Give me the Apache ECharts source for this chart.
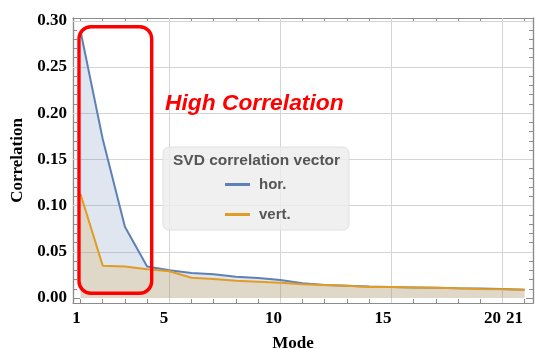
<!DOCTYPE html>
<html>
<head>
<meta charset="utf-8">
<script src="https://cdn.jsdelivr.net/npm/echarts@6/dist/echarts.min.js"></script>
<style>
  html, body { margin: 0; padding: 0; background: #ffffff; }
  #chart { width: 535px; height: 349px; }
</style>
</head>
<body>
<div id="chart"></div>
<script>
// SVD correlation per mode, horizontal and vertical planes
const modes = [1, 2, 3, 4, 5, 6, 7, 8, 9, 10, 11, 12, 13, 14, 15, 16, 17, 18, 19, 20, 21];
const hor = [0.289, 0.172, 0.077, 0.034, 0.030, 0.027, 0.0256, 0.023, 0.0216, 0.0195, 0.016, 0.014, 0.0133, 0.0125, 0.012, 0.0115, 0.011, 0.0105, 0.0102, 0.0097, 0.009];
const vert = [0.1125, 0.035, 0.034, 0.031, 0.029, 0.022, 0.0205, 0.0187, 0.0177, 0.0166, 0.015, 0.014, 0.0133, 0.012, 0.012, 0.0115, 0.011, 0.0105, 0.0098, 0.0094, 0.009];
const seriesNames = ['hor.', 'vert.'];
const legendTitle = 'SVD correlation vector';
const xTickLabels = [1, 5, 10, 15, 20, 21];
const yTickLabels = [0, 0.05, 0.10, 0.15, 0.20, 0.25, 0.30];
const yMinorTicks = [0, 0.01, 0.02, 0.03, 0.04, 0.05, 0.06, 0.07, 0.08, 0.09, 0.10,
  0.11, 0.12, 0.13, 0.14, 0.15, 0.16, 0.17, 0.18, 0.19, 0.20,
  0.21, 0.22, 0.23, 0.24, 0.25, 0.26, 0.27, 0.28, 0.29, 0.30];
const xGridValues = [5, 10, 15, 20];
const yGridValues = [0.05, 0.10, 0.15, 0.20, 0.25, 0.30];
const callout = 'High Correlation';

const BLUE = '#5E81B5';
const ORANGE = '#E19C24';
const FRAME = '#8c8c8c';

const xMin = 0.662, xMax = 21.38;
const yMin = -0.0054, yMax = 0.303;

const serifBold = { fontFamily: 'Liberation Serif', fontWeight: 'bold', fontSize: 17, color: '#000' };

function frameX(position, ticks, len) {
  return {
    type: 'value', position: position, min: xMin, max: xMax,
    axisLine: { show: true, onZero: false, lineStyle: { color: FRAME, width: 1.2 } },
    axisTick: { show: true, inside: true, length: len, customValues: ticks, lineStyle: { color: FRAME, width: 1 } },
    axisLabel: { show: false },
    splitLine: { show: false }
  };
}
function frameY(position, ticks, len) {
  return {
    type: 'value', position: position, min: yMin, max: yMax,
    axisLine: { show: true, onZero: false, lineStyle: { color: FRAME, width: 1.2 } },
    axisTick: { show: true, inside: true, length: len, customValues: ticks, lineStyle: { color: FRAME, width: 1 } },
    axisLabel: { show: false },
    splitLine: { show: false }
  };
}

const chart = echarts.init(document.getElementById('chart'), null, { renderer: 'canvas' });

const yLeft = frameY('left', yTickLabels, 7);
yLeft.axisLabel = {
  show: true, margin: 6, customValues: yTickLabels,
  formatter: v => v.toFixed(2),
  fontFamily: serifBold.fontFamily, fontWeight: 'bold', fontSize: 17, color: '#000'
};
yLeft.name = 'Correlation';
yLeft.nameLocation = 'middle';
yLeft.nameGap = 46;
yLeft.nameTextStyle = serifBold;

const option = {
  animation: false,
  backgroundColor: '#ffffff',
  grid: { left: 73, top: 18, width: 460, height: 285, containLabel: false, outerBoundsMode: 'none' },
  xAxis: [
    frameX('bottom', modes, 4),
    frameX('top', modes, 4),
    {
      // tick labels along the bottom edge
      type: 'value', position: 'bottom', min: 0.845, max: 21.85,
      axisLine: { show: false }, axisTick: { show: false }, splitLine: { show: false },
      axisLabel: {
        show: true, margin: 7, customValues: xTickLabels,
        fontFamily: serifBold.fontFamily, fontWeight: 'bold', fontSize: 17, color: '#000'
      },
      name: 'Mode', nameLocation: 'middle', nameGap: 32,
      nameTextStyle: Object.assign({}, serifBold, { padding: [0, 20, 0, 0] })
    }
  ],
  yAxis: [
    yLeft,
    frameY('left', yMinorTicks, 4),
    frameY('right', yTickLabels, 7),
    frameY('right', yMinorTicks, 4)
  ],
  legend: {
    data: seriesNames,
    orient: 'vertical',
    left: 220, top: 172, z: 100,
    itemWidth: 25, itemHeight: 3, itemGap: 15,
    icon: 'rect',
    textStyle: { fontFamily: 'Liberation Sans', fontWeight: 'bold', fontSize: 15, color: '#555', padding: [0, 0, 0, 4] }
  },
  graphic: [
    {
      type: 'rect', z: 90, silent: true,
      shape: { x: 163, y: 147, width: 186, height: 83, r: 6 },
      style: { fill: 'rgba(236,236,236,0.8)', stroke: '#e0e0e0', lineWidth: 1 }
    },
    {
      type: 'text', z: 101, silent: true,
      style: { x: 173, y: 161, text: legendTitle, verticalAlign: 'middle', fontFamily: 'Liberation Sans', fontWeight: 'bold', fontSize: 15.5, fill: '#555' }
    },
    {
      type: 'rect', z: 95, silent: true,
      shape: { x: 79, y: 26.7, width: 72.7, height: 266.6, r: 12 },
      style: { fill: 'none', stroke: '#ff0000', lineWidth: 3.4 }
    },
    {
      type: 'text', z: 95, silent: true,
      style: { x: 165, y: 104, text: callout, verticalAlign: 'middle', fontFamily: 'Liberation Sans', fontWeight: 'bold', fontStyle: 'italic', fontSize: 22.8, fill: '#ff0000' }
    }
  ],
  series: [
    {
      // grid lines, kept beneath the filled curves
      type: 'line', name: '_grid', data: [], xAxisIndex: 0, yAxisIndex: 0, silent: true,
      markLine: {
        silent: true, symbol: 'none', z: 1, animation: false,
        label: { show: false },
        lineStyle: { color: '#d4d4d4', width: 1, type: 'solid' },
        emphasis: { disabled: true },
        data: xGridValues.map(v => ({ xAxis: v })).concat(yGridValues.map(v => ({ yAxis: v })))
      }
    },
    {
      type: 'line', name: seriesNames[0], xAxisIndex: 0, yAxisIndex: 0, z: 3,
      data: modes.map((m, i) => [m, hor[i]]),
      symbol: 'none', smooth: false,
      lineStyle: { color: BLUE, width: 2 },
      itemStyle: { color: BLUE },
      areaStyle: { color: BLUE, opacity: 0.2, origin: 0 }
    },
    {
      type: 'line', name: seriesNames[1], xAxisIndex: 0, yAxisIndex: 0, z: 4,
      data: modes.map((m, i) => [m, vert[i]]),
      symbol: 'none', smooth: false,
      lineStyle: { color: ORANGE, width: 2 },
      itemStyle: { color: ORANGE },
      areaStyle: { color: ORANGE, opacity: 0.2, origin: 0 }
    }
  ]
};

chart.setOption(option);
</script>
</body>
</html>
